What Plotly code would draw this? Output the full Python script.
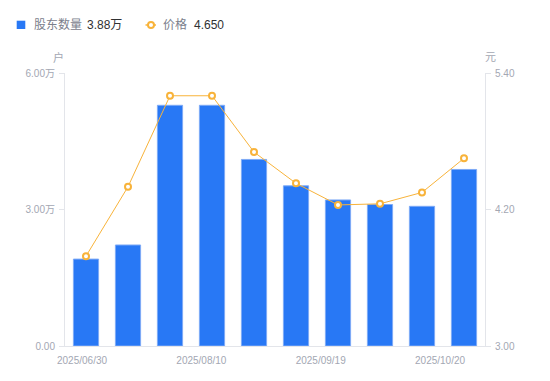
import plotly.graph_objects as go
import numpy as np

# ---- data ----
holders_wan = [1.91, 2.22, 5.29, 5.29, 4.10, 3.52, 3.21, 3.11, 3.07, 3.88]
prices = [3.79, 4.40, 5.20, 5.20, 4.705, 4.43, 4.24, 4.25, 4.35, 4.65]
date_labels = ["2025/06/30", "2025/08/10", "2025/09/19", "2025/10/20"]
left_ticks = [0, 3, 6]
left_tick_text = ["0.00", "3.00万", "6.00万"]
right_ticks = [3.00, 4.20, 5.40]
right_tick_text = ["3.00", "4.20", "5.40"]
legend_names = ["股东数量", "价格"]
legend_values = ["3.88万", "4.650"]

# page body has an 8px default margin; lay out in screen pixels
OFF = 8
W, H = 550 - 2 * OFF, 381 - 2 * OFF
X0, X1, Y0, Y1 = 65, 485, 73, 346          # plot area in screen px
ML, MT = X0 - OFF, Y0 - OFF
MR, MB = W - (X1 - OFF), H - (Y1 - OFF)
PW, PH = X1 - X0, Y1 - Y0

def px(x):
    return (x - X0) / PW

def py(y):
    return (Y1 - y) / PH

BLUE = "#2878f5"
ORANGE = "#f8b33a"
GREY = "#a3a7b3"
AXIS = "#e3e5ea"
FONT = "Liberation Sans, Noto Sans CJK SC, sans-serif"

idx = list(range(len(holders_wan)))

fig = go.Figure()
fig.add_trace(go.Bar(
    x=idx, y=holders_wan, width=0.6,
    marker=dict(color=BLUE, line=dict(color="#7eaaf6", width=1)),
    yaxis="y", showlegend=False, hoverinfo="skip",
))
fig.add_trace(go.Scatter(
    x=idx, y=prices, yaxis="y2", mode="lines+markers",
    line=dict(color=ORANGE, width=1),
    marker=dict(symbol="circle", size=6, color="white",
                line=dict(color=ORANGE, width=2)),
    showlegend=False, hoverinfo="skip",
))

tickvals = list(np.linspace(-0.095, 8.43, len(date_labels)))

fig.update_layout(
    width=W, height=H,
    margin=dict(l=ML, r=MR, t=MT, b=MB, pad=0, autoexpand=False),
    paper_bgcolor="white", plot_bgcolor="white",
    font=dict(family=FONT, size=10, color=GREY),
    xaxis=dict(
        range=[-0.5, len(idx) - 0.5], tickmode="array",
        tickvals=tickvals, ticktext=date_labels,
        showgrid=False, zeroline=False, showline=True, linecolor=AXIS,
        linewidth=1, ticks="", tickfont=dict(size=10, color=GREY),
        ticklabelstandoff=5, fixedrange=True, automargin=False,
    ),
    yaxis=dict(
        range=[0, 6], tickmode="array", tickvals=left_ticks,
        ticktext=left_tick_text, showgrid=False, zeroline=False,
        showline=True, linecolor=AXIS, linewidth=1,
        ticks="outside", ticklen=5, tickcolor=AXIS,
        tickfont=dict(size=10, color=GREY), ticklabelstandoff=2,
        automargin=False,
    ),
    yaxis2=dict(
        range=[3.0, 5.4], overlaying="y", side="right", tickmode="array",
        tickvals=right_ticks, ticktext=right_tick_text, showgrid=False,
        zeroline=False, showline=True, linecolor=AXIS, linewidth=1,
        ticks="outside", ticklen=5, tickcolor=AXIS,
        tickfont=dict(size=10, color=GREY), ticklabelstandoff=2,
        automargin=False,
    ),
)

shapes = [
    dict(type="rect", xref="paper", yref="paper",
         x0=px(16.7), x1=px(25.3), y0=py(29), y1=py(20.7),
         fillcolor=BLUE, line=dict(width=0)),
    dict(type="line", xref="paper", yref="paper",
         x0=px(145.5), x1=px(156), y0=py(25), y1=py(25),
         line=dict(color=ORANGE, width=1.5)),
    dict(type="circle", xref="paper", yref="paper",
         x0=px(148), x1=px(154), y0=py(28), y1=py(22),
         fillcolor="white", line=dict(color=ORANGE, width=2)),
]

def ann(text, x, y, size, color, xanchor="left"):
    return dict(text=text, x=px(x), y=py(y), xref="paper", yref="paper",
                xanchor=xanchor, yanchor="middle", showarrow=False,
                font=dict(size=size, color=color))

annotations = [
    ann(legend_names[0], 31.5, 25, 12, "#7b808c"),
    ann(legend_values[0], 84.5, 25, 12, "#303133"),
    ann(legend_names[1], 161, 25, 12, "#7b808c"),
    ann(legend_values[1], 191.5, 25, 12, "#303133"),
    ann("户", 58, 57, 11, GREY, "center"),
    ann("元", 490, 57, 11, GREY, "center"),
]
fig.update_layout(shapes=shapes, annotations=annotations)

fig.write_html("out.html")
